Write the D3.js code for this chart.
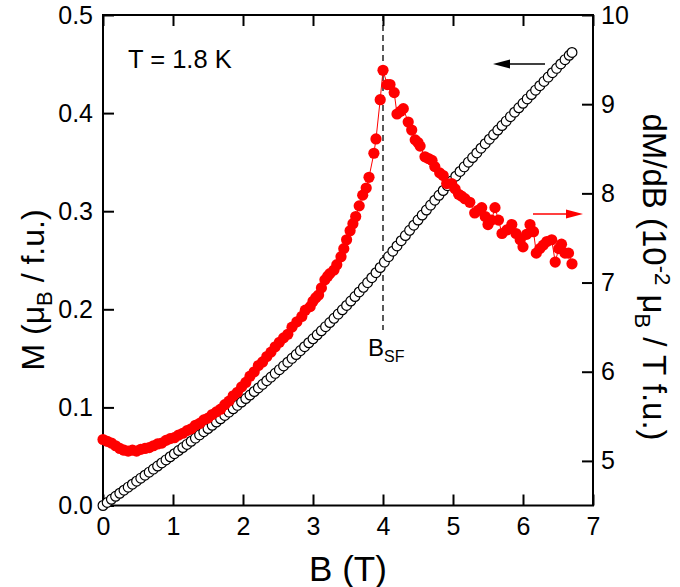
<!DOCTYPE html>
<html><head><meta charset="utf-8">
<script src="https://cdn.jsdelivr.net/npm/d3@7/dist/d3.min.js"></script>
<style>body{margin:0;background:#fff}svg{display:block}text{font-family:"Liberation Sans",Arial,sans-serif}</style>
</head><body>
<svg id="c" width="680" height="587"></svg>
<script>
// Magnetization M (mu_B / f.u.) vs field B (T), open circles, left axis
const fieldM = [0.00,0.06,0.12,0.18,0.24,0.30,0.36,0.42,0.48,0.54,0.60,0.66,0.72,0.78,0.84,0.90,0.96,1.02,1.08,1.14,1.20,1.26,1.32,1.38,1.44,1.50,1.56,1.62,1.68,1.74,1.80,1.86,1.92,1.98,2.04,2.10,2.16,2.22,2.28,2.34,2.40,2.46,2.52,2.58,2.64,2.70,2.76,2.82,2.88,2.94,3.00,3.06,3.12,3.18,3.24,3.30,3.36,3.42,3.48,3.54,3.60,3.66,3.72,3.78,3.84,3.90,3.96,4.02,4.08,4.14,4.20,4.26,4.32,4.38,4.44,4.50,4.56,4.62,4.68,4.74,4.80,4.86,4.92,4.98,5.04,5.10,5.16,5.22,5.28,5.34,5.40,5.46,5.52,5.58,5.64,5.70,5.76,5.82,5.88,5.94,6.00,6.06,6.12,6.18,6.24,6.30,6.36,6.42,6.48,6.54,6.60,6.66,6.70];
const magnetization = [0.0000,0.0031,0.0063,0.0094,0.0125,0.0156,0.0187,0.0217,0.0248,0.0279,0.0309,0.0340,0.0371,0.0402,0.0434,0.0465,0.0497,0.0528,0.0560,0.0591,0.0623,0.0655,0.0687,0.0720,0.0752,0.0785,0.0818,0.0851,0.0884,0.0918,0.0952,0.0986,0.1021,0.1055,0.1090,0.1126,0.1162,0.1198,0.1235,0.1272,0.1309,0.1347,0.1385,0.1423,0.1461,0.1500,0.1539,0.1579,0.1619,0.1659,0.1699,0.1740,0.1781,0.1823,0.1865,0.1908,0.1951,0.1995,0.2039,0.2084,0.2130,0.2177,0.2224,0.2272,0.2322,0.2373,0.2426,0.2481,0.2537,0.2592,0.2646,0.2699,0.2752,0.2805,0.2857,0.2910,0.2961,0.3012,0.3062,0.3112,0.3162,0.3211,0.3260,0.3308,0.3357,0.3405,0.3452,0.3500,0.3547,0.3594,0.3642,0.3688,0.3734,0.3781,0.3827,0.3873,0.3918,0.3964,0.4009,0.4054,0.4100,0.4145,0.4189,0.4234,0.4279,0.4323,0.4367,0.4412,0.4456,0.4501,0.4545,0.4589,0.4618];

// dM/dB (10^-2 mu_B / T f.u.) vs B (T), red filled circles, right axis
const fieldD = [0.00,0.06,0.12,0.18,0.24,0.30,0.36,0.42,0.48,0.54,0.60,0.66,0.72,0.78,0.84,0.90,0.96,1.02,1.08,1.14,1.20,1.26,1.32,1.38,1.44,1.50,1.56,1.62,1.68,1.74,1.80,1.86,1.92,1.98,2.04,2.10,2.16,2.22,2.28,2.34,2.40,2.46,2.52,2.58,2.64,2.70,2.77,2.84,2.89,2.96,3.00,3.04,3.08,3.12,3.17,3.21,3.24,3.30,3.34,3.40,3.44,3.48,3.53,3.57,3.61,3.66,3.71,3.76,3.80,3.87,3.90,3.96,4.00,4.06,4.10,4.16,4.20,4.25,4.29,4.36,4.41,4.46,4.50,4.53,4.60,4.65,4.70,4.74,4.81,4.86,4.91,4.98,5.03,5.08,5.12,5.17,5.24,5.31,5.36,5.41,5.46,5.50,5.55,5.60,5.65,5.70,5.77,5.84,5.90,5.96,6.00,6.05,6.10,6.15,6.19,6.24,6.29,6.34,6.41,6.46,6.51,6.55,6.60,6.65,6.70];
const dMdB = [5.24,5.22,5.20,5.17,5.14,5.12,5.11,5.12,5.11,5.13,5.14,5.15,5.17,5.19,5.20,5.23,5.25,5.26,5.29,5.31,5.34,5.36,5.40,5.42,5.46,5.48,5.52,5.55,5.58,5.63,5.67,5.73,5.77,5.83,5.88,5.95,6.00,6.07,6.11,6.17,6.22,6.28,6.33,6.38,6.42,6.50,6.56,6.62,6.69,6.73,6.79,6.83,6.86,6.94,7.03,7.07,7.10,7.14,7.20,7.29,7.38,7.48,7.58,7.66,7.74,7.86,7.98,8.06,8.18,8.45,8.61,9.05,9.38,9.22,9.22,9.13,8.89,8.92,8.95,8.80,8.71,8.60,8.57,8.53,8.41,8.39,8.37,8.30,8.23,8.20,8.11,8.11,8.05,7.99,7.97,7.94,7.90,7.78,7.81,7.84,7.74,7.65,7.70,7.84,7.70,7.55,7.59,7.65,7.55,7.48,7.40,7.54,7.65,7.57,7.33,7.38,7.42,7.46,7.48,7.23,7.38,7.43,7.33,7.33,7.21];

const bTicks = [0,1,2,3,4,5,6,7];
const mTicks = [0,0.1,0.2,0.3,0.4,0.5];
const dTicks = [5,6,7,8,9,10];
const spinFlopField = 4.0;

const L = 103, R = 593, T = 15, B = 505.5;
const svg = d3.select("#c");
const x = d3.scaleLinear().domain([0,7]).range([L,R]);
const yM = d3.scaleLinear().domain([0,0.5]).range([B,T]);
const yD = d3.scaleLinear().domain([4.5,10]).range([B,T]);

const fs = 25;
function styleAxis(g){
  g.select(".domain").remove();
  g.selectAll(".tick line").attr("stroke","#000").attr("stroke-width",2);
  g.selectAll(".tick text").attr("font-size",fs).attr("fill","#000").attr("font-family","Liberation Sans, Arial, sans-serif");
}
svg.append("g").attr("transform",`translate(${L},0)`)
  .call(d3.axisLeft(yM).tickValues(mTicks).tickFormat(d3.format(".1f")).tickSize(-11).tickPadding(10)).call(styleAxis);
svg.append("g").attr("transform",`translate(${R},0)`)
  .call(d3.axisRight(yD).tickValues(dTicks).tickFormat(d3.format("d")).tickSize(-11).tickPadding(8)).call(styleAxis);
svg.append("g").attr("transform",`translate(0,${B})`)
  .call(d3.axisBottom(x).tickValues(bTicks).tickFormat(d3.format("d")).tickSize(-11).tickPadding(12)).call(styleAxis);
svg.append("g").attr("transform",`translate(0,${T})`)
  .call(d3.axisTop(x).tickValues(bTicks).tickFormat("").tickSize(-11)).call(styleAxis);

// frame
svg.append("rect").attr("x",L).attr("y",T).attr("width",R-L).attr("height",B-T)
  .attr("fill","none").attr("stroke","#000").attr("stroke-width",2);

// dashed spin-flop line
svg.append("line").attr("x1",x(spinFlopField)).attr("x2",x(spinFlopField))
  .attr("y1",T).attr("y2",330).attr("stroke","#000").attr("stroke-width",1.3).attr("stroke-dasharray","6,4");
const bsf = svg.append("text").attr("x",x(spinFlopField)-15).attr("y",356).attr("font-size",24);
bsf.append("tspan").text("B");
bsf.append("tspan").attr("font-size",16).attr("dy",6).text("SF");

// M data (open circles)
const mData = fieldM.map((b,i)=>[b,magnetization[i]]);
svg.append("g").selectAll("circle").data(mData).join("circle")
  .attr("cx",d=>x(d[0])).attr("cy",d=>yM(d[1])).attr("r",4.9)
  .attr("fill","#fff").attr("stroke","#000").attr("stroke-width",1.2);

// dM/dB data (red)
const dData = fieldD.map((b,i)=>[b,dMdB[i]]);
svg.append("path").datum(dData).attr("fill","none").attr("stroke","#ff0000").attr("stroke-width",1)
  .attr("d",d3.line().x(d=>x(d[0])).y(d=>yD(d[1])));
svg.append("g").selectAll("circle").data(dData).join("circle")
  .attr("cx",d=>x(d[0])).attr("cy",d=>yD(d[1])).attr("r",5.6).attr("fill","#ff0000");

// arrows
function arrow(x1,x2,y,color){
  const dir = Math.sign(x2-x1);
  svg.append("line").attr("x1",x1).attr("x2",x2-dir*14).attr("y1",y).attr("y2",y).attr("stroke",color).attr("stroke-width",1.6);
  svg.append("path").attr("d",`M${x2},${y}L${x2-dir*17},${y-4.5}L${x2-dir*17},${y+4.5}Z`).attr("fill",color);
}
arrow(545,493,64,"#000");
arrow(533,583,214,"#ff0000");

// texts
svg.append("text").attr("x",128).attr("y",68).attr("font-size",25.5).text("T = 1.8 K");

svg.append("text").attr("x",(L+R)/2).attr("y",581).attr("text-anchor","middle").attr("font-size",35).text("B (T)");

const yl = svg.append("text").attr("transform",`translate(44,290) rotate(-90)`).attr("text-anchor","middle").attr("font-size",32);
yl.append("tspan").text("M (μ");
yl.append("tspan").attr("font-size",22).attr("dy",8).text("B");
yl.append("tspan").attr("dy",-8).text(" / f.u.)");

const yr = svg.append("text").attr("transform",`translate(643,277) rotate(90)`).attr("text-anchor","middle").attr("font-size",33);
yr.append("tspan").text("dM/dB (10");
yr.append("tspan").attr("font-size",22).attr("dy",-12).text("-2");
yr.append("tspan").attr("dy",12).text(" μ");
yr.append("tspan").attr("font-size",22).attr("dy",8).text("B");
yr.append("tspan").attr("dy",-8).text(" / T f.u.)");
</script>
</body></html>
